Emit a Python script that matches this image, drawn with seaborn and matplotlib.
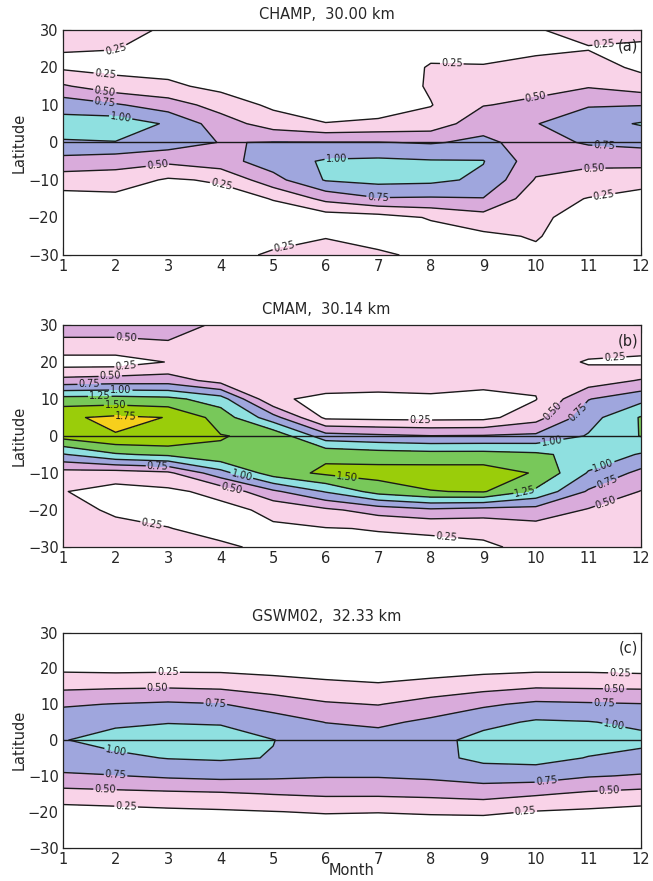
import numpy as np
import matplotlib
matplotlib.use("Agg")
import matplotlib.pyplot as plt
import seaborn as sns

# ---------------- data ----------------
months = [1, 2, 3, 4, 5, 6, 7, 8, 9, 10, 11, 12]
# latitude rows (north to south) for every month column below
lats = [30, 25, 20, 15, 10, 5, 0, -5, -10, -15, -20, -25, -30]
levels = [0.25, 0.50, 0.75, 1.00, 1.25, 1.50, 1.75]
titles = ["CHAMP,  30.00 km", "CMAM,  30.14 km", "GSWM02,  32.33 km"]
panel_tags = ["(a)", "(b)", "(c)"]

# CHAMP amplitude, one list per month (lat 30 -> -30)
champ = [
    [0.30, 0.26, 0.21, 0.53, 0.90, 1.10, 0.98, 0.65, 0.38, 0.15, 0.10, 0.08, 0.05],
    [0.30, 0.255, 0.18, 0.35, 0.78, 1.15, 0.99, 0.60, 0.38, 0.18, 0.10, 0.08, 0.05],
    [0.23, 0.18, 0.16, 0.30, 0.62, 0.97, 0.88, 0.55, 0.22, 0.12, 0.08, 0.06, 0.05],
    [0.15, 0.12, 0.12, 0.18, 0.40, 0.62, 0.74, 0.65, 0.28, 0.15, 0.10, 0.08, 0.20],
    [0.10, 0.10, 0.10, 0.12, 0.20, 0.38, 0.76, 0.88, 0.66, 0.26, 0.15, 0.20, 0.27],
    [0.10, 0.10, 0.12, 0.08, 0.10, 0.26, 0.76, 1.03, 1.02, 0.57, 0.12, 0.24, 0.32],
    [0.10, 0.10, 0.10, 0.08, 0.12, 0.30, 0.76, 1.05, 1.08, 0.73, 0.15, 0.20, 0.27],
    [0.20, 0.18, 0.27, 0.28, 0.24, 0.35, 0.73, 1.02, 1.06, 0.72, 0.27, 0.15, 0.22],
    [0.15, 0.20, 0.26, 0.38, 0.49, 0.66, 0.80, 1.01, 0.95, 0.74, 0.40, 0.20, 0.10],
    [0.24, 0.22, 0.30, 0.43, 0.55, 0.74, 0.65, 0.60, 0.48, 0.35, 0.30, 0.27, 0.20],
    [0.30, 0.24, 0.36, 0.48, 0.73, 0.90, 0.78, 0.56, 0.40, 0.24, 0.15, 0.10, 0.08],
    [0.30, 0.22, 0.20, 0.38, 0.74, 1.02, 0.82, 0.58, 0.35, 0.15, 0.10, 0.08, 0.05],
]

# CMAM amplitude
cmam = [
    [0.56, 0.47, 0.12, 0.58, 1.35, 1.72, 1.60, 0.98, 0.40, 0.26, 0.32, 0.36, 0.38],
    [0.56, 0.47, 0.12, 0.62, 1.36, 1.79, 1.74, 1.22, 0.38, 0.16, 0.22, 0.30, 0.35],
    [0.55, 0.49, 0.26, 0.63, 1.32, 1.745, 1.74, 1.30, 0.45, 0.20, 0.14, 0.26, 0.32],
    [0.48, 0.40, 0.35, 0.40, 1.12, 1.40, 1.51, 1.47, 0.90, 0.32, 0.18, 0.15, 0.30],
    [0.40, 0.38, 0.36, 0.33, 0.27, 0.845, 1.45, 1.45, 1.38, 0.70, 0.30, 0.22, 0.18],
    [0.40, 0.38, 0.36, 0.32, 0.22, 0.20, 0.85, 1.45, 1.55, 1.02, 0.45, 0.24, 0.20],
    [0.40, 0.38, 0.36, 0.30, 0.22, 0.18, 0.80, 1.38, 1.60, 1.35, 0.60, 0.26, 0.20],
    [0.40, 0.38, 0.35, 0.30, 0.23, 0.17, 0.76, 1.35, 1.62, 1.49, 0.70, 0.28, 0.20],
    [0.42, 0.40, 0.36, 0.30, 0.20, 0.18, 0.77, 1.35, 1.62, 1.52, 0.65, 0.30, 0.22],
    [0.42, 0.40, 0.36, 0.30, 0.24, 0.40, 0.80, 1.30, 1.48, 1.20, 0.65, 0.40, 0.30],
    [0.42, 0.36, 0.23, 0.36, 0.74, 0.90, 1.02, 1.15, 0.98, 0.72, 0.48, 0.42, 0.38],
    [0.42, 0.35, 0.20, 0.52, 0.92, 1.27, 1.26, 0.98, 0.68, 0.49, 0.45, 0.42, 0.40],
]

# GSWM02 amplitude
gswm = [
    [0.05, 0.12, 0.20, 0.44, 0.72, 0.90, 0.99, 0.88, 0.72, 0.40, 0.15, 0.08, 0.05],
    [0.05, 0.10, 0.18, 0.46, 0.76, 0.96, 1.08, 0.95, 0.74, 0.43, 0.17, 0.08, 0.05],
    [0.05, 0.10, 0.19, 0.47, 0.79, 0.99, 1.12, 1.01, 0.79, 0.45, 0.20, 0.08, 0.05],
    [0.05, 0.10, 0.19, 0.45, 0.76, 0.98, 1.10, 1.03, 0.82, 0.47, 0.22, 0.08, 0.05],
    [0.05, 0.10, 0.17, 0.37, 0.65, 0.86, 1.005, 0.99, 0.80, 0.51, 0.245, 0.08, 0.05],
    [0.05, 0.08, 0.15, 0.31, 0.53, 0.745, 0.88, 0.90, 0.77, 0.54, 0.27, 0.10, 0.05],
    [0.05, 0.08, 0.13, 0.28, 0.49, 0.70, 0.86, 0.90, 0.77, 0.54, 0.26, 0.10, 0.05],
    [0.05, 0.08, 0.14, 0.34, 0.60, 0.80, 0.92, 0.93, 0.80, 0.56, 0.28, 0.10, 0.05],
    [0.05, 0.10, 0.17, 0.41, 0.71, 0.93, 1.08, 1.06, 0.86, 0.60, 0.29, 0.10, 0.05],
    [0.05, 0.10, 0.19, 0.47, 0.80, 1.03, 1.12, 1.08, 0.87, 0.53, 0.24, 0.10, 0.05],
    [0.05, 0.10, 0.19, 0.46, 0.78, 1.01, 1.10, 0.99, 0.77, 0.46, 0.21, 0.08, 0.05],
    [0.05, 0.10, 0.17, 0.45, 0.76, 0.95, 1.06, 0.93, 0.73, 0.42, 0.17, 0.08, 0.05],
]

# ---------------- style / layout ----------------
sns.set_theme(style="ticks")
plt.rcParams["font.family"] = ["DejaVu Sans"]

fill_colors = ["#ffffff", "#f9d3e8", "#d9abdb", "#9fa6dd", "#8fe0e0",
               "#78c85a", "#9acd0a", "#f7cf1c"]
fill_levels = [-1.0] + levels + [5.0]

# approximate anchor points for inline contour labels (month, latitude)
label_spots = [
    [(2.0, 24.8), (11.3, 26.3), (8.4, 21.0), (1.8, 17.6), (1.8, 14.2),
     (1.8, 11.2), (2.1, 7.0), (10.0, 12.1), (11.3, -0.9), (11.1, -5.8),
     (11.3, -14.9), (6.2, -4.4), (7.0, -14.3), (2.8, -6.5), (4.0, -12.0),
     (5.2, -27.3)],
    [(2.2, 25.8), (2.2, 19.0), (1.9, 16.4), (1.5, 13.9), (2.1, 12.4),
     (1.7, 10.7), (2.0, 8.3), (2.2, 5.3), (11.5, 21.0), (7.8, 4.4),
     (10.3, 7.0), (10.8, 6.5), (10.3, -0.9), (11.3, -8.5), (11.4, -14.0),
     (11.4, -20.7), (9.8, -15.6), (6.4, -11.3), (4.4, -10.8), (4.2, -15.0),
     (2.8, -8.0), (2.7, -23.2), (8.3, -26.8)],
    [(3.0, 18.9), (2.8, 14.5), (3.9, 10.4), (2.0, -3.5), (2.0, -9.8),
     (1.8, -13.7), (2.2, -18.8), (11.6, 18.4), (11.5, 14.2), (11.3, 10.4),
     (11.5, 5.3), (10.2, -11.4), (11.4, -14.3), (9.8, -20.2)],
]

fig = plt.figure(figsize=(6.53, 8.81), dpi=100)
positions = [
    [0.0965, 0.7106, 0.885, 0.2554],
    [0.0965, 0.3791, 0.885, 0.2520],
    [0.0965, 0.0380, 0.885, 0.2440],
]

x = np.array(months)
y = np.array(lats)[::-1]

for i, data in enumerate([champ, cmam, gswm]):
    ax = fig.add_axes(positions[i])
    z = np.array(data).T[::-1]
    ax.contourf(x, y, z, levels=fill_levels, colors=fill_colors)
    cs = ax.contour(x, y, z, levels=levels, colors="#1a1a1a", linewidths=1.0)
    ax.clabel(cs, fmt="%.2f", fontsize=7, inline=True, inline_spacing=1,
              manual=label_spots[i])
    ax.axhline(0, color="#1a1a1a", lw=1.0)

    ax.set_xlim(1, 12)
    ax.set_ylim(-30, 30)
    ax.set_xticks(months)
    ax.set_yticks([-30, -20, -10, 0, 10, 20, 30])
    ax.set_yticks(np.arange(-30, 31, 2), minor=True)
    ax.tick_params(axis="both", which="major", direction="in", length=6,
                   width=0.8, top=True, right=True, labelsize=10.5, pad=3)
    ax.tick_params(axis="y", which="minor", direction="in", length=3,
                   width=0.6, left=True, right=True)
    ax.set_ylabel("Latitude", fontsize=10.5, labelpad=1)
    ax.set_title(titles[i], fontsize=10.5, pad=8, x=0.456)
    ax.text(0.995, 0.93, panel_tags[i], transform=ax.transAxes,
            ha="right", va="center", fontsize=10.5)
    for s in ax.spines.values():
        s.set_linewidth(0.9)
        s.set_color("#222222")
    if i == 2:
        ax.set_xlabel("Month", fontsize=10.5, labelpad=-3)

fig.savefig("out.png", dpi=100)
